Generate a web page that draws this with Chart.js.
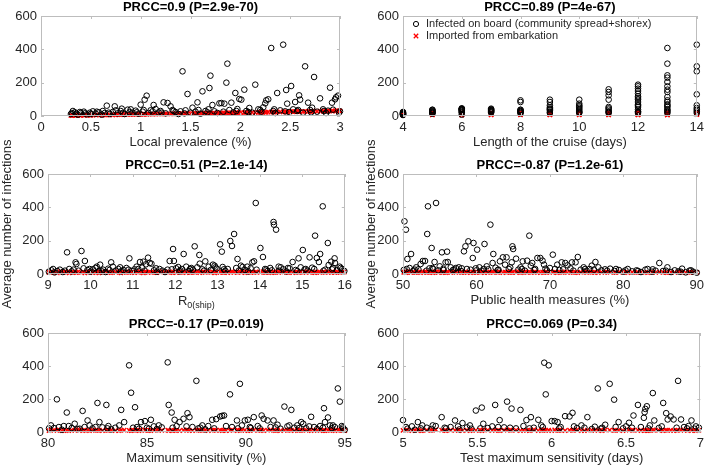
<!DOCTYPE html>
<html><head><meta charset="utf-8">
<script src="https://cdn.jsdelivr.net/npm/chart.js@4/dist/chart.umd.min.js"></script>
<style>
html,body{margin:0;padding:0;background:#fff;}
#wrap{position:relative;width:708px;height:467px;overflow:hidden;background:#fff;}
canvas{position:absolute;}
</style></head><body><div id="wrap"></div>
<script>
// ---------------- DATA (rows: [parameter value, infected on board, imported]) ----------------
const prevalenceSamples = [
[0.30,12,3],[0.32,30,3],[0.34,22,4],[0.37,8,3],[0.40,18,4],[0.43,26,5],[0.46,10,4],[0.49,20,5],[0.52,28,5],[0.55,14,6],
[0.58,22,6],[0.61,8,5],[0.64,18,7],[0.66,62,6],[0.69,12,7],[0.72,24,7],[0.74,58,8],[0.77,16,8],[0.80,30,8],[0.81,44,9],
[0.84,12,9],[0.87,38,9],[0.89,24,9],[0.92,20,10],[0.95,32,9],[0.98,14,10],[1.00,68,11],[1.02,26,10],[1.04,98,11],[1.06,122,11],
[1.08,18,11],[1.10,34,12],[1.13,66,12],[1.15,42,11],[1.18,22,12],[1.20,30,13],[1.23,82,12],[1.25,16,13],[1.27,78,13],[1.30,58,13],
[1.32,36,14],[1.35,24,13],[1.38,12,14],[1.40,28,14],[1.42,268,15],[1.45,34,14],[1.47,132,15],[1.50,20,15],[1.52,50,15],[1.55,26,16],
[1.57,82,16],[1.60,14,16],[1.62,148,16],[1.65,30,17],[1.67,22,16],[1.69,168,17],[1.70,242,17],[1.72,66,18],[1.74,28,17],[1.77,18,18],
[1.79,76,18],[1.81,78,18],[1.84,74,19],[1.86,200,19],[1.87,314,18],[1.89,36,19],[1.91,80,19],[1.93,22,20],[1.95,138,19],[1.97,42,20],
[1.99,102,20],[2.01,98,21],[2.04,158,20],[2.06,30,21],[2.09,48,21],[2.12,20,22],[2.15,188,21],[2.18,40,22],[2.21,26,22],[2.23,52,23],
[2.25,76,23],[2.26,94,22],[2.28,100,23],[2.31,408,24],[2.33,30,23],[2.35,18,24],[2.37,138,24],[2.40,34,25],[2.43,428,24],[2.46,156,25],
[2.47,74,25],[2.49,24,26],[2.51,180,26],[2.53,40,25],[2.55,84,27],[2.57,30,26],[2.59,124,27],[2.60,98,27],[2.63,20,27],[2.65,298,28],
[2.68,80,28],[2.70,36,27],[2.72,50,28],[2.74,234,29],[2.77,26,28],[2.80,106,29],[2.83,40,29],[2.86,18,30],[2.88,32,29],[2.90,170,30],
[2.92,80,31],[2.95,100,30],[2.96,112,31],[2.98,122,30],[3.00,28,31],
[0.31,18,2],[0.35,14,4],[0.39,24,3],[0.44,16,5],[0.50,12,4],[0.56,26,6],[0.62,30,6],[0.68,20,6],[0.75,34,7],[0.82,18,8],
[0.90,40,9],[0.96,22,9],[1.03,36,10],[1.12,28,11],[1.21,20,12],[1.33,30,13],[1.44,16,15],[1.58,36,16],[1.68,40,17],[1.83,26,18],
[1.96,30,20],[2.08,24,21],[2.20,36,22],[2.34,40,24],[2.45,28,25],[2.58,36,26],[2.71,22,28],[2.84,30,29],[2.93,38,30],[2.99,20,29]
];
const cruiseLengthSamples = [
[4,6,5],[4,10,8],[4,14,12],[4,18,16],[4,22,20],[4,24,10],[4,12,14],[4,8,6],[4,16,18],
[5,14,6],[5,20,10],[5,26,14],[5,32,18],[5,36,22],[5,38,8],[5,22,12],[5,18,16],[5,28,20],
[6,8,5],[6,20,9],[6,30,13],[6,36,17],[6,40,21],[6,44,11],[6,46,15],[6,24,7],[6,34,19],[6,42,23],
[7,24,6],[7,30,10],[7,36,14],[7,40,18],[7,44,22],[7,28,12],[7,20,8],[7,34,16],
[8,94,7],[8,84,11],[8,38,15],[8,24,19],[8,30,23],[8,16,9],[8,36,13],[8,20,17],[8,28,21],
[9,98,6],[9,84,10],[9,64,14],[9,44,18],[9,24,22],[9,34,12],[9,18,8],[9,52,16],[9,40,20],
[10,98,7],[10,74,11],[10,58,15],[10,50,19],[10,34,23],[10,18,9],[10,26,13],[10,42,17],[10,64,21],[10,22,12],
[11,160,8],[11,144,12],[11,124,16],[11,98,20],[11,54,24],[11,38,10],[11,18,14],[11,46,18],[11,28,6],[11,24,22],
[12,188,6],[12,178,10],[12,164,14],[12,150,18],[12,134,22],[12,118,8],[12,98,12],[12,84,16],[12,70,20],[12,54,24],
[12,38,9],[12,18,13],[12,28,17],[12,62,21],[12,108,11],[12,24,15],
[13,408,7],[13,314,11],[13,244,15],[13,230,19],[13,204,23],[13,178,9],[13,158,13],[13,144,17],[13,114,21],[13,94,25],
[13,84,8],[13,70,12],[13,54,16],[13,34,20],[13,18,6],[13,26,10],[13,62,14],[13,40,22],
[14,428,8],[14,298,12],[14,268,16],[14,130,20],[14,64,24],[14,38,10],[14,18,14],[14,28,18],[14,48,22]
];
const r0Samples = [
[9.02,14,10],[9.08,22,8],[9.15,10,12],[9.22,18,6],[9.28,26,14],[9.35,12,9],[9.45,130,11],[9.50,30,7],[9.56,16,13],[9.65,70,10],
[9.67,60,8],[9.72,20,15],[9.79,138,9],[9.84,34,12],[9.87,78,6],[9.93,24,11],[10.00,14,14],[10.06,28,8],[10.12,36,10],[10.15,44,13],
[10.20,18,7],[10.23,56,12],[10.30,26,9],[10.36,12,15],[10.42,32,11],[10.49,70,8],[10.53,44,12],[10.60,20,10],[10.66,30,14],[10.72,16,7],
[10.78,24,11],[10.85,36,9],[10.92,94,13],[10.98,18,10],[11.04,28,8],[11.09,44,12],[11.13,30,9],[11.17,72,14],[11.22,38,11],[11.25,74,7],
[11.31,58,12],[11.36,98,10],[11.40,66,13],[11.44,62,9],[11.50,22,11],[11.57,14,8],[11.63,30,12],[11.70,20,15],[11.76,12,9],[11.82,26,11],
[11.87,78,13],[11.95,150,8],[11.97,78,12],[12.02,34,10],[12.07,42,14],[12.12,22,9],[12.16,30,11],[12.20,120,12],[12.26,44,8],[12.32,18,13],
[12.38,36,10],[12.42,26,11],[12.46,166,9],[12.52,40,14],[12.57,114,12],[12.58,62,8],[12.64,28,11],[12.71,76,10],[12.79,44,13],[12.84,24,9],
[12.89,56,12],[12.93,50,7],[12.98,32,11],[13.06,178,10],[13.10,134,13],[13.12,42,9],[13.18,20,12],[13.24,30,8],[13.30,198,11],[13.34,168,14],
[13.39,240,10],[13.44,36,12],[13.47,90,9],[13.55,50,11],[13.59,42,13],[13.65,24,8],[13.72,16,12],[13.78,34,10],[13.82,70,11],[13.86,76,9],
[13.90,426,13],[13.92,26,12],[14.01,156,10],[14.07,102,14],[14.12,30,9],[14.18,18,11],[14.24,36,12],[14.28,22,8],[14.32,312,13],[14.33,296,10],
[14.38,266,11],[14.44,44,9],[14.49,40,12],[14.55,28,14],[14.62,16,10],[14.70,34,11],[14.77,72,8],[14.84,24,12],[14.91,94,10],[14.96,40,13],
[15.01,144,9],[15.08,30,11],[15.12,20,14],[15.17,100,10],[15.23,38,12],[15.30,230,8],[15.34,96,11],[15.39,72,13],[15.42,120,10],[15.48,406,12],
[15.54,26,9],[15.60,186,11],[15.62,54,14],[15.68,74,10],[15.72,36,12],[15.76,94,9],[15.77,66,11],[15.82,22,13],[15.88,44,10],[15.94,30,12],
[15.99,18,11],
[9.12,30,9],[9.40,20,12],[9.60,26,10],[9.98,30,12],[10.27,16,11],[10.45,24,9],[10.70,40,12],[10.90,26,10],[11.28,20,13],[11.55,34,10],
[11.92,28,9],[12.10,16,12],[12.35,30,10],[12.68,20,13],[12.95,40,11],[13.15,28,10],[13.50,20,12],[13.70,44,11],[14.15,26,10],[14.45,20,12],
[14.66,36,9],[14.88,18,11],[15.05,26,12],[15.28,30,10],[15.50,20,13],[15.70,28,11],[15.90,36,9]
];
const healthMeasureSamples = [
[50.1,24,10],[50.2,316,12],[50.4,266,8],[50.6,90,11],[50.9,36,14],[51.1,120,9],[51.4,20,12],[51.8,40,10],[52.1,28,13],[52.4,60,8],
[52.7,78,11],[53.0,78,14],[53.3,240,9],[53.4,406,12],[53.6,34,10],[53.9,156,13],[54.1,30,8],[54.3,72,11],[54.5,426,12],[54.8,22,9],
[55.0,46,14],[55.3,130,10],[55.5,32,12],[55.8,70,8],[56.0,134,11],[56.1,72,13],[56.5,40,9],[56.8,24,12],[57.2,36,10],[57.6,40,14],
[57.9,18,11],[58.3,136,9],[58.5,166,12],[58.7,30,10],[58.9,196,13],[59.2,26,8],[59.5,96,11],[59.6,186,12],[59.9,34,9],[60.1,146,10],
[60.4,40,13],[60.7,20,11],[61.1,180,8],[61.4,46,12],[61.6,28,10],[61.9,296,11],[62.2,66,13],[62.3,120,9],[62.6,38,12],[62.9,24,10],
[63.2,76,11],[63.6,100,8],[63.9,56,12],[64.1,100,10],[64.4,30,13],[64.8,70,9],[64.9,166,11],[65.0,150,12],[65.4,92,10],[65.7,26,14],
[66.0,40,8],[66.3,76,11],[66.6,20,12],[66.9,80,10],[67.2,230,13],[67.4,50,9],[67.6,66,11],[68.0,30,12],[68.3,96,10],[68.7,96,8],
[69.0,80,12],[69.2,56,11],[69.6,22,9],[70.0,36,13],[70.4,116,10],[70.7,30,12],[71.0,56,8],[71.3,24,11],[71.6,70,10],[72.1,66,13],
[72.4,52,9],[72.8,34,11],[73.0,70,12],[73.5,70,10],[73.8,102,8],[74.2,26,12],[74.6,40,11],[75.0,20,9],[75.4,30,13],[75.7,50,10],
[76.2,72,11],[76.6,40,8],[77.0,22,12],[77.5,28,10],[78.2,32,11],[78.8,18,9],[79.4,24,12],[80.0,14,10],[80.6,30,8],[81.2,16,11],
[81.8,22,9],[82.4,12,12],[83.0,26,10],[83.3,30,8],[83.9,14,11],[84.4,20,9],[84.9,66,12],[85.4,18,10],[86.0,40,8],[86.5,12,11],
[87.0,22,9],[87.5,16,12],[88.0,32,10],[88.5,10,8],[89.0,20,11],[89.5,14,9],[90.0,8,10],
[50.5,30,11],[51.6,26,9],[53.2,20,12],[54.0,36,11],[55.5,24,10],[57.0,28,12],[58.0,34,9],[60.0,22,11],[61.0,30,10],[63.0,26,12],
[64.6,40,9],[66.2,30,11],[67.9,24,12],[69.4,32,10],[71.8,28,11],[73.2,20,9],[74.8,30,12],[76.0,26,10],[77.8,20,11],[79.0,30,9],
[80.3,22,12],[82.0,18,10],[84.0,28,11],[85.8,20,9],[87.8,14,12],[89.2,22,10]
];
const sensitivitySamples = [
[80.05,22,9],[80.15,40,12],[80.45,198,10],[80.55,30,13],[80.7,14,8],[80.95,118,11],[81.05,36,9],[81.2,24,12],[81.35,50,10],[81.5,18,14],
[81.75,128,9],[81.85,30,11],[82.0,70,12],[82.1,40,8],[82.25,22,13],[82.5,176,10],[82.6,60,11],[82.75,28,9],[82.95,164,12],[83.05,36,10],
[83.2,16,13],[83.4,26,9],[83.7,134,11],[83.85,60,12],[84.1,404,10],[84.2,238,8],[84.4,150,12],[84.5,30,11],[84.6,20,9],[84.7,60,13],
[84.9,66,10],[85.0,26,12],[85.2,74,9],[85.35,34,11],[85.5,18,13],[85.75,28,10],[86.05,422,12],[86.1,164,9],[86.25,118,11],[86.4,74,10],
[86.5,36,12],[86.65,60,8],[86.85,80,11],[87.05,114,13],[87.15,90,10],[87.3,30,9],[87.5,310,12],[87.6,22,11],[87.8,40,10],[87.95,16,13],
[88.1,36,9],[88.3,74,12],[88.5,78,10],[88.7,94,11],[88.8,98,8],[88.9,100,12],[89.2,228,10],[89.3,30,13],[89.55,70,9],[89.7,292,11],
[89.8,40,12],[89.95,70,10],[90.1,74,9],[90.25,24,13],[90.4,90,11],[90.6,36,10],[90.8,100,12],[90.9,80,8],[91.1,70,11],[91.25,30,13],
[91.4,70,10],[91.6,44,12],[91.75,20,9],[91.95,154,11],[92.1,34,10],[92.3,134,12],[92.45,26,9],[92.6,40,13],[92.8,60,10],[92.9,50,11],
[93.05,22,12],[93.3,92,9],[93.45,30,11],[93.6,18,10],[93.75,36,13],[93.95,144,12],[94.0,60,8],[94.15,88,11],[94.25,40,10],[94.35,24,13],
[94.5,30,9],[94.65,264,12],[94.75,184,11],[94.85,36,10],[94.92,20,12],[95.0,14,9],
[80.3,24,11],[80.8,36,9],[81.6,20,12],[82.4,30,10],[83.0,22,11],[83.6,40,9],[84.3,26,12],[85.1,20,10],[85.6,40,11],[86.3,26,9],
[87.0,34,12],[87.7,26,10],[88.4,22,11],[89.0,36,9],[89.6,22,12],[90.2,30,10],[90.7,22,11],[91.5,28,9],[92.2,40,12],[92.7,24,10],
[93.2,34,11],[93.9,26,9],[94.4,40,12],[94.9,28,10]
];
const testTimingSamples = [
[5.00,72,10],[5.03,20,12],[5.06,34,8],[5.08,14,11],[5.10,60,13],[5.13,40,9],[5.16,26,12],[5.19,18,10],[5.22,36,14],[5.26,90,11],
[5.29,22,9],[5.32,30,12],[5.35,70,10],[5.38,16,13],[5.40,54,8],[5.43,28,11],[5.46,20,12],[5.49,130,10],[5.53,148,9],[5.54,50,13],
[5.57,24,11],[5.60,34,10],[5.62,164,12],[5.65,72,8],[5.68,28,11],[5.70,184,13],[5.73,142,10],[5.76,22,12],[5.79,134,9],[5.81,36,11],
[5.83,72,10],[5.86,90,12],[5.88,26,14],[5.91,74,9],[5.93,40,11],[5.95,420,12],[5.96,228,10],[5.98,404,11],[6.00,66,9],[6.02,66,13],
[6.04,60,10],[6.06,30,12],[6.09,96,8],[6.12,94,11],[6.14,116,10],[6.17,24,13],[6.20,40,9],[6.24,90,12],[6.27,18,11],[6.29,32,10],
[6.31,264,12],[6.34,26,9],[6.36,44,13],[6.39,292,11],[6.42,196,10],[6.45,60,12],[6.48,22,9],[6.50,34,11],[6.52,56,13],[6.55,100,10],
[6.58,164,12],[6.60,30,8],[6.62,86,11],[6.625,120,10],[6.63,140,12],[6.64,156,9],[6.66,40,11],[6.68,236,13],[6.69,70,10],[6.72,24,12],
[6.75,176,9],[6.77,114,11],[6.78,76,10],[6.80,94,12],[6.82,76,8],[6.85,310,11],[6.87,76,13],[6.89,30,10],[6.92,36,12],[6.94,70,9],
[6.96,20,11],[6.99,26,10],
[5.02,30,11],[5.12,22,9],[5.20,40,12],[5.28,26,10],[5.37,34,11],[5.45,40,9],[5.52,22,12],[5.64,30,10],[5.72,26,11],[5.85,22,9],
[5.94,30,12],[6.05,22,10],[6.15,34,11],[6.22,26,9],[6.33,20,12],[6.43,30,10],[6.54,26,11],[6.65,22,9],[6.74,34,12],[6.84,26,10],
[6.91,22,11],[6.97,34,9]
];

const panelTitles = ["PRCC=0.9 (P=2.9e-70)","PRCC=0.89 (P=4e-67)","PRCC=0.51 (P=2.1e-14)","PRCC=-0.87 (P=1.2e-61)","PRCC=-0.17 (P=0.019)","PRCC=0.069 (P=0.34)"];
const xAxisLabels = ["Local prevalence (%)","Length of the cruise (days)","R0(ship)","Public health measures (%)","Maximum sensitivity (%)","Test maximum sensitivity (days)"];
const xTickRanges = [[0,3,0.5],[4,14,2],[9,16,1],[50,90,10],[80,95,5],[5,7,0.5]];
const yTickRange = [0,600,200];
const seriesNames = ["Infected on board (community spread+shorex)","Imported from embarkation"];
const yAxisLabel = "Average number of infections";

// ---------------- LAYOUT / STYLE ----------------
const FONT = "'Liberation Sans', Arial, Helvetica, sans-serif";
const TXT = '#262626';
const FRAME = '#bdbdbd';
// plot areas: [left, top, right, bottom]
const plotBoxes = [[41,16,340,116],[403,16,701,116],[48,174,347,274],[403,174,701,274],[48,333,347,432],[403,333,701,432]];
const canvasLeft = [0,355,0,355,0,355];
const canvasRight = [352,708,356,708,356,708];
const TITLE_H = 16, XAXIS_H = 34;
const samples = [prevalenceSamples,cruiseLengthSamples,r0Samples,healthMeasureSamples,sensitivitySamples,testTimingSamples];

const framePlugin = {
  id:'frameTicks',
  afterDatasetsDraw(chart){
    const {ctx, chartArea:a, scales} = chart;
    ctx.save();
    ctx.strokeStyle = FRAME; ctx.lineWidth = 1;
    ctx.strokeRect(Math.round(a.left)+0.5, Math.round(a.top)+0.5, Math.round(a.right-a.left)-1, Math.round(a.bottom-a.top)-1);
    const L = 3;
    ctx.beginPath();
    scales.x.ticks.forEach(t=>{
      const px = Math.round(scales.x.getPixelForValue(t.value))+0.5;
      ctx.moveTo(px,a.bottom); ctx.lineTo(px,a.bottom-L);
      ctx.moveTo(px,a.top); ctx.lineTo(px,a.top+L);
    });
    scales.y.ticks.forEach(t=>{
      const py = Math.round(scales.y.getPixelForValue(t.value))+0.5;
      ctx.moveTo(a.left,py); ctx.lineTo(a.left+L,py);
      ctx.moveTo(a.right,py); ctx.lineTo(a.right-L,py);
    });
    ctx.stroke();
    ctx.restore();
  }
};

const legendPlugin = {
  id:'insideLegend',
  afterDraw(chart){
    if(!chart.options.plugins.insideLegend || !chart.options.plugins.insideLegend.show) return;
    const {ctx, chartArea:a} = chart;
    ctx.save();
    const mx = a.left + 13;
    const y1 = a.top + 8, y2 = a.top + 20;
    ctx.strokeStyle = '#000'; ctx.lineWidth = 1;
    ctx.beginPath(); ctx.arc(mx, y1, 2.6, 0, Math.PI*2); ctx.stroke();
    ctx.strokeStyle = '#ff0000'; ctx.lineWidth = 1.3;
    ctx.beginPath(); ctx.moveTo(mx-2.2,y2-2.2); ctx.lineTo(mx+2.2,y2+2.2); ctx.moveTo(mx+2.2,y2-2.2); ctx.lineTo(mx-2.2,y2+2.2); ctx.stroke();
    ctx.fillStyle = TXT; ctx.font = '11px ' + FONT; ctx.textBaseline = 'middle'; ctx.textAlign = 'left';
    ctx.fillText(seriesNames[0], a.left + 23, y1);
    ctx.fillText(seriesNames[1], a.left + 23, y2);
    ctx.restore();
  }
};

const subscriptLabelPlugin = {
  id:'subLabel',
  afterDraw(chart){
    const o = chart.options.plugins.subLabel;
    if(!o || !o.show) return;
    const {ctx, chartArea:a} = chart;
    ctx.save();
    ctx.fillStyle = TXT; ctx.textBaseline = 'alphabetic'; ctx.textAlign = 'left';
    const main = o.text.charAt(0), sub = o.text.slice(1);
    ctx.font = '13px ' + FONT; const w1 = ctx.measureText(main).width;
    ctx.font = '9px ' + FONT; const w2 = ctx.measureText(sub).width;
    const cx = (a.left + a.right)/2;
    const x0 = cx - (w1+w2)/2;
    const base = a.bottom + 31;
    ctx.font = '13px ' + FONT; ctx.fillText(main, x0, base);
    ctx.font = '9px ' + FONT; ctx.fillText(sub, x0 + w1, base + 3);
    ctx.restore();
  }
};

const wrap = document.getElementById('wrap');
samples.forEach((rows, i)=>{
  const [pl, pt, pr, pb] = plotBoxes[i];
  const cl = canvasLeft[i], cr = canvasRight[i];
  const isMid = (i===2 || i===3);
  const extra = isMid ? 45 : 0;
  const ct = pt - TITLE_H - extra;
  const W = cr - cl, H = TITLE_H + (pb-pt) + XAXIS_H + 2*extra;
  const cv = document.createElement('canvas');
  cv.width = W; cv.height = H;
  cv.style.left = cl+'px'; cv.style.top = ct+'px';
  cv.style.width = W+'px'; cv.style.height = H+'px';
  wrap.appendChild(cv);
  const yW = pl - cl;
  const padRight = cr - pr;
  const isR0 = (i===2);
  const [xmin,xmax,xstep] = xTickRanges[i];
  new Chart(cv, {
    type:'scatter',
    data:{
      datasets:[
        {label:seriesNames[0], data:rows.map(r=>({x:r[0],y:r[1]})), pointStyle:'circle', pointRadius:2.8, pointHoverRadius:2.8,
         borderColor:'#000', backgroundColor:'rgba(0,0,0,0)', pointBorderWidth:1, clip:false},
        {label:seriesNames[1], data:rows.map(r=>({x:r[0],y:r[2]})), pointStyle:'crossRot', pointRadius:3, pointHoverRadius:3,
         borderColor:'#ff0000', backgroundColor:'#ff0000', pointBorderWidth:1.4, clip:false}
      ]
    },
    options:{
      responsive:false, animation:false, devicePixelRatio:1,
      layout:{padding:{left:0,right:padRight,top:extra,bottom:extra}},
      plugins:{
        legend:{display:false}, tooltip:{enabled:false},
        title:{display:true, text:panelTitles[i], fullSize:false, color:'#000',
               font:{family:FONT,size:13,weight:'bold',lineHeight:1.2}, padding:{top:0,bottom:TITLE_H-15.6}},
        insideLegend:{show:i===1},
        subLabel:{show:isR0, text:xAxisLabels[i]}
      },
      scales:{
        x:{type:'linear', min:xmin, max:xmax,
           afterFit:(s)=>{s.height = XAXIS_H;},
           grid:{display:false, drawTicks:false}, border:{display:false},
           ticks:{stepSize:xstep, autoSkip:false, maxRotation:0, padding:4, color:TXT,
                  font:{family:FONT,size:13}, callback:(v)=>String(+Number(v).toFixed(2))},
           title:{display:!isR0, text:xAxisLabels[i], color:TXT, font:{family:FONT,size:13,lineHeight:1.2}, padding:{top:0,bottom:0}}},
        y:{type:'linear', min:yTickRange[0], max:yTickRange[1],
           afterFit:(s)=>{s.width = yW;},
           grid:{display:false, drawTicks:false}, border:{display:false},
           ticks:{stepSize:yTickRange[2], padding:4, color:TXT, font:{family:FONT,size:13}},
           title:{display:isMid, text:yAxisLabel, color:TXT, font:{family:FONT,size:13,lineHeight:1.2},
                  padding:{top:(i===3?9:0),bottom:0}}}
      }
    },
    plugins:[framePlugin, legendPlugin, subscriptLabelPlugin]
  });
});
</script>
</body></html>
